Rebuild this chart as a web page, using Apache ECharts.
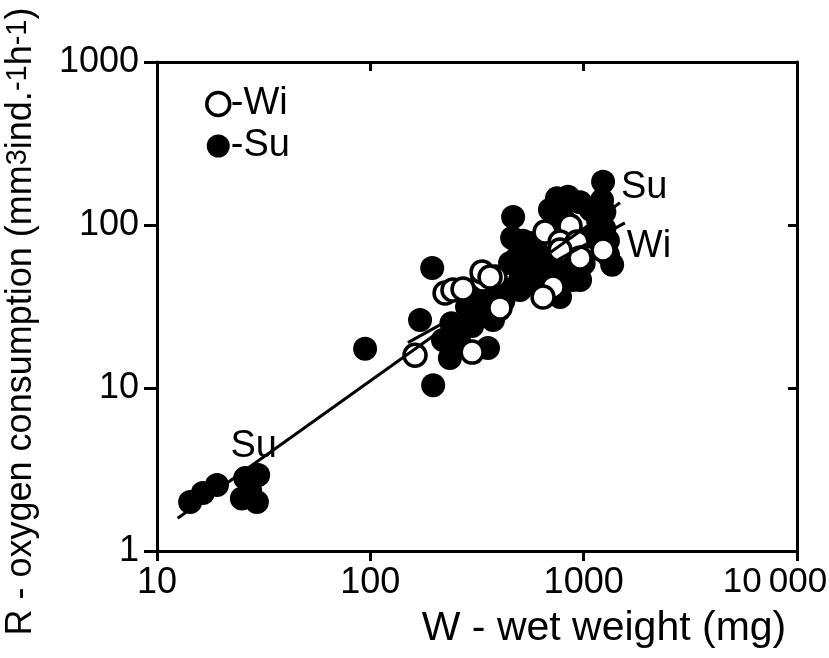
<!DOCTYPE html>
<html>
<head>
<meta charset="utf-8">
<script src="https://cdn.jsdelivr.net/npm/echarts@6/dist/echarts.min.js"></script>
<style>
html,body{margin:0;padding:0;background:#fff;}
#chart{width:829px;height:658px;}
</style>
</head>
<body>
<div id="chart"></div>
<script>
// Summer (filled) measurements: [wet weight mg, O2 consumption mm3 ind-1 h-1]
const suData = [
  [14.3,2.0],[16.4,2.27],[19.1,2.54],[25.0,2.1],[29.4,2.0],[25.9,2.8],[29.8,2.93],[27.3,2.37],
  [94.5,17.4],[195,54.5],[197,10.4],[171,26.1],[236,15.3],[356,17.6],[263,23.7],[316,27.3],
  [219,19.7],[376,26.1],[284,31.4],[334,34.7],[300,24],[350,30],[260,20],[240,25],[400,30],
  [380,36],[420,34],[450,40],
  [467,112],[462,83.2],[487,62.8],[503,46.0],[750,146],[845,149],[962,138],[695,124],
  [1233,184],[1219,142],[1168,107],[1107,84.4],[1301,65.5],[561,61.0],[625,53.0],[561,46.0],
  [750,50.8],[892,46.0],[962,46.0],[503,39.9],[775,36.2],[579,77.6],[452,58.5],
  [1360,57],[1080,124],[650,60],[540,52],[700,58],[600,70],[520,80],[820,52],[1000,58],
  [1250,95],[1250,120],[1300,80],[680,48],[900,55],[800,110],[620,45]
];
// Winter (open) measurements
const wiData = [
  [659,90.6],[863,98.6],[775,78.7],[931,78.7],[775,70.3],[962,62.8],[1233,70.3],
  [719,41.7],[645,36.2],[353,46.0],[384,48.0],[337,46.0],
  [224,38.3],[244,39.9],[272,40.5],[334,51.5],[364,48.0],[405,31.0],[300,16.6],[162,15.9]
];
// Fitted regression lines (end points)
const suLine = [[12.5,1.59],[1480,137]];
const wiLine = [[150,19],[1560,103]];
// Axis ranges / ticks
const xRange = [10, 10000];
const yRange = [1, 1000];
const xTickLabels = {10:'10',100:'100',1000:'1000',10000:'{r|10\u2009000}'};
const yTickLabels = {1:'1',10:'10',100:'100',1000:'1000'};

const FONT = '"Liberation Sans", Arial, sans-serif';
const axisLineStyle = {color:'#000', width:3};

const chart = echarts.init(document.getElementById('chart'), null, {renderer:'canvas'});
chart.setOption({
  backgroundColor:'#fff',
  animation:false,
  grid:{left:157, right:32, top:62, bottom:107, containLabel:false, outerBoundsMode:'none'},
  legend:{
    orient:'vertical', left:200, top:80, itemWidth:23, itemHeight:23, itemGap:4,
    formatter:'-{name}',
    textStyle:{fontFamily:FONT, fontSize:38, color:'#000', padding:[0,0,0,-4]},
    data:[
      {name:'Wi', icon:'circle', itemStyle:{color:'#fff', borderColor:'#000', borderWidth:3.5}},
      {name:'Su', icon:'circle', itemStyle:{color:'#000', borderWidth:0}}
    ]
  },
  xAxis:[{
    type:'log', logBase:10, min:xRange[0], max:xRange[1], position:'bottom',
    axisLine:{show:true, lineStyle:axisLineStyle},
    axisTick:{show:true, inside:false, length:10, lineStyle:{color:'#000', width:3}},
    minorTick:{show:false}, splitLine:{show:false},
    axisLabel:{formatter:v=>xTickLabels[Math.round(v)]||'', fontFamily:FONT, fontSize:36, color:'#000', margin:14,
      rich:{r:{fontFamily:FONT, fontSize:35, color:'#000', padding:[0,44,0,0]}}},
    name:'W - wet weight (mg)', nameLocation:'middle', nameGap:57,
    nameTextStyle:{fontFamily:FONT, fontSize:41, color:'#000', padding:[0,0,0,254]}
  },{
    type:'log', logBase:10, min:xRange[0], max:xRange[1], position:'top',
    axisLine:{show:true, lineStyle:axisLineStyle},
    axisTick:{show:true, inside:true, length:9, lineStyle:{color:'#000', width:3}},
    axisLabel:{show:false}, splitLine:{show:false}, minorTick:{show:false}
  }],
  yAxis:[{
    type:'log', logBase:10, min:yRange[0], max:yRange[1], position:'left',
    axisLine:{show:true, lineStyle:axisLineStyle},
    axisTick:{show:true, inside:false, length:13, lineStyle:{color:'#000', width:3}},
    minorTick:{show:false}, splitLine:{show:false},
    axisLabel:{formatter:v=>yTickLabels[Math.round(v)]||'', fontFamily:FONT, fontSize:36, color:'#000', margin:18},
    name:'R - oxygen consumption (mm{s|3}ind.{s|-1}h{s|-1})', nameLocation:'middle', nameGap:104,
    nameTextStyle:{fontFamily:FONT, fontSize:36, color:'#000', padding:[0,30,0,0],
      rich:{s:{fontFamily:FONT, fontSize:29, color:'#000', verticalAlign:'top', lineHeight:36, padding:[0,0,16,0]}}}
  },{
    type:'log', logBase:10, min:yRange[0], max:yRange[1], position:'right',
    axisLine:{show:true, lineStyle:axisLineStyle},
    axisTick:{show:true, inside:true, length:9, lineStyle:{color:'#000', width:3}},
    axisLabel:{show:false}, splitLine:{show:false}, minorTick:{show:false}
  }],
  series:[
    {name:'Su', type:'scatter', xAxisIndex:0, yAxisIndex:0, data:suData, symbol:'circle', symbolSize:24,
      itemStyle:{color:'#000', opacity:1}, z:2},
    {name:'Wi', type:'scatter', xAxisIndex:0, yAxisIndex:0, data:wiData, symbol:'circle', symbolSize:22,
      itemStyle:{color:'#fff', borderColor:'#000', borderWidth:3.5, opacity:1}, z:3},
    {name:'SuFit', type:'line', xAxisIndex:0, yAxisIndex:0, data:suLine, symbol:'none', silent:true,
      lineStyle:{color:'#000', width:3}, z:4,
      endLabel:{show:true, formatter:'Su', fontFamily:FONT, fontSize:38, color:'#000', offset:[-2,-15], distance:3},
      markPoint:{symbol:'circle', symbolSize:0, silent:true,
        data:[{coord:suLine[0], label:{show:true, formatter:'Su', fontFamily:FONT, fontSize:38, color:'#000', offset:[76,-72]}}]}
    },
    {name:'WiFit', type:'line', xAxisIndex:0, yAxisIndex:0, data:wiLine, symbol:'none', silent:true,
      lineStyle:{color:'#000', width:3}, z:4,
      endLabel:{show:true, formatter:'Wi', fontFamily:FONT, fontSize:38, color:'#000', offset:[0,24], distance:2}
    }
  ]
});
</script>
</body>
</html>
